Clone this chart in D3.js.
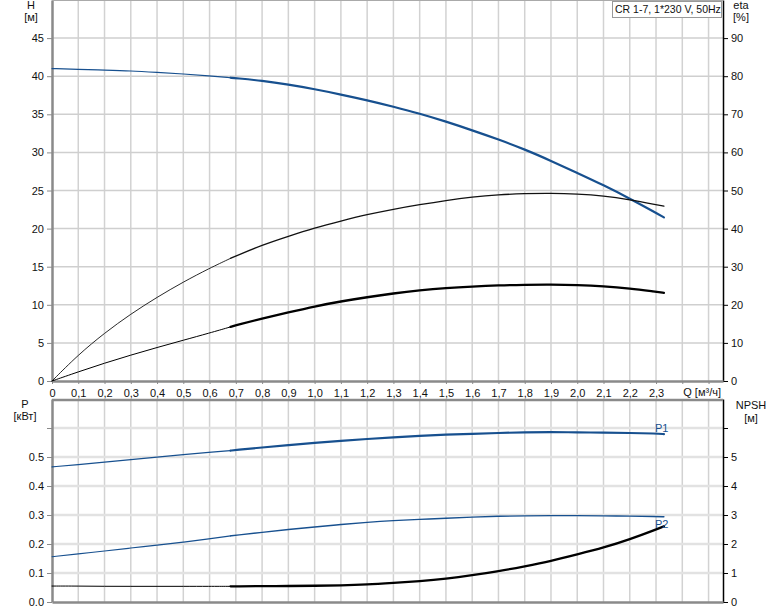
<!DOCTYPE html>
<html><head><meta charset="utf-8">
<script src="https://cdn.jsdelivr.net/npm/d3@7/dist/d3.min.js"></script>
<style>
body{margin:0;background:#fff;}
svg{display:block;font-family:"Liberation Sans",Arial,sans-serif;}
</style></head>
<body><svg id="c" width="774" height="611"></svg>
<script>
// ---- data ----
const Q      = [0,0.1,0.2,0.3,0.4,0.5,0.6,0.68,0.7,0.8,0.9,1.0,1.1,1.2,1.3,1.4,1.5,1.6,1.7,1.8,1.9,2.0,2.1,2.2,2.3,2.33];
const H      = [41.0,40.9,40.8,40.7,40.5,40.3,40.05,39.8,39.75,39.4,38.9,38.3,37.6,36.85,36.0,35.1,34.05,32.9,31.7,30.4,28.9,27.3,25.7,23.95,22.07,21.47];
const ETA    = [0,6.9,12.6,17.6,22.0,26.0,29.6,32.2,32.8,35.7,38.0,40.2,42.0,43.7,45.1,46.3,47.4,48.3,48.9,49.2,49.3,49.1,48.6,47.6,46.3,45.9];
const ETATOT = [0,2.4,4.7,6.8,8.8,10.7,12.6,14.2,14.6,16.4,18.0,19.6,20.9,22.0,23.0,23.8,24.4,24.8,25.1,25.25,25.3,25.2,24.9,24.3,23.4,23.15];
const P1     = [0.466,0.474,0.482,0.491,0.500,0.508,0.516,0.522,0.524,0.533,0.541,0.549,0.556,0.562,0.568,0.573,0.577,0.580,0.583,0.585,0.586,0.585,0.584,0.583,0.581,0.579];
const P2     = [0.156,0.166,0.176,0.186,0.196,0.206,0.218,0.228,0.230,0.240,0.250,0.259,0.267,0.275,0.281,0.285,0.289,0.293,0.296,0.297,0.298,0.298,0.297,0.296,0.295,0.294];
const NPSH   = [0.55,0.55,0.54,0.54,0.54,0.54,0.54,0.54,0.54,0.55,0.55,0.56,0.57,0.60,0.66,0.72,0.80,0.92,1.06,1.23,1.41,1.64,1.87,2.16,2.50,2.61];
const qTicks   = [0,0.1,0.2,0.3,0.4,0.5,0.6,0.7,0.8,0.9,1.0,1.1,1.2,1.3,1.4,1.5,1.6,1.7,1.8,1.9,2.0,2.1,2.2,2.3];
const qGrid    = [0.1,0.2,0.3,0.4,0.5,0.6,0.7,0.8,0.9,1.0,1.1,1.2,1.3,1.4,1.5,1.6,1.7,1.8,1.9,2.0,2.1,2.2,2.3,2.4,2.5];
const hTicks   = [0,5,10,15,20,25,30,35,40,45];
const etaTicks = [0,10,20,30,40,50,60,70,80,90];
const pTicks   = [0,0.1,0.2,0.3,0.4,0.5,0.6];
const nTicks   = [0,1,2,3,4,5,6];
const title = "CR 1-7, 1*230 V, 50Hz";
const Qop = 0.68; // start of the bold (operating) range

// ---- scales ----
const svg = d3.select("#c");
const x  = d3.scaleLinear().domain([0,2.555]).range([52,723]);
const yH = d3.scaleLinear().domain([0,50]).range([381,0]);
const yE = d3.scaleLinear().domain([0,100]).range([381,0]);
const yP = d3.scaleLinear().domain([0,0.7]).range([602,399]);
const yN = d3.scaleLinear().domain([0,7]).range([602,399]);

const BLUE="#17508f", GRIDV="#d2d2d2", GRIDH="#cfcfcf", AX="#8a8a8a";
const fmtQ = d => d===0 ? "0" : d3.format(".1f")(d).replace(".",",");

// ---- grids ----
function grids(y0,y1,hvals,yScale,hcol,hw){
  svg.append("g").selectAll("line").data(qGrid).join("line")
    .attr("x1",d=>x(d)).attr("x2",d=>x(d)).attr("y1",y0).attr("y2",y1)
    .attr("stroke",GRIDV).attr("stroke-width",1.5);
  svg.append("g").selectAll("line").data(hvals).join("line")
    .attr("x1",x(0)).attr("x2",723).attr("y1",d=>yScale(d)).attr("y2",d=>yScale(d))
    .attr("stroke",hcol).attr("stroke-width",hw);
}
grids(0,381,hTicks.filter(d=>d>0),yH,GRIDH,1.5);
grids(400,602,pTicks.filter(d=>d>0),yP,"#e2e2e2",2.5);

// ---- axes ----
function styleAxis(g,col,w){
  g.select(".domain").attr("stroke",col).attr("stroke-width",w);
  g.selectAll(".tick line").attr("stroke",col).attr("stroke-width",1);
  g.selectAll(".tick text").attr("fill","#111").style("font-size","11px").style("font-family","Liberation Sans, Arial, sans-serif");
}
// top panel
let g;
g = svg.append("g").attr("transform","translate(52,0)")
  .call(d3.axisLeft(yH).tickValues(hTicks).tickSize(5).tickSizeOuter(0).tickPadding(3));
styleAxis(g,AX,2.5);
g = svg.append("g").attr("transform","translate(723,0)")
  .call(d3.axisRight(yE).tickValues(etaTicks).tickSize(5).tickSizeOuter(0).tickPadding(3));
styleAxis(g,"#000",1.5);
g = svg.append("g").attr("transform","translate(0,381)")
  .call(d3.axisBottom(x).tickValues(qTicks.concat([2.4,2.5])).tickSize(3).tickSizeOuter(0).tickPadding(5)
    .tickFormat(d=> d>2.35 ? "" : fmtQ(d)));
styleAxis(g,AX,2.5);
svg.append("line").attr("x1",52).attr("x2",723).attr("y1",0.5).attr("y2",0.5).attr("stroke","#aaa").attr("stroke-width",1);

// bottom panel
g = svg.append("g").attr("transform","translate(52,0)")
  .call(d3.axisLeft(yP).tickValues(pTicks).tickSize(5).tickSizeOuter(0).tickPadding(3)
    .tickFormat(d=> d>0.55 ? "" : d3.format(".1f")(d)));
styleAxis(g,AX,2.5);
g = svg.append("g").attr("transform","translate(723,0)")
  .call(d3.axisRight(yN).tickValues(nTicks).tickSize(5).tickSizeOuter(0).tickPadding(3)
    .tickFormat(d=> d>5.5 ? "" : d));
styleAxis(g,"#000",1.5);
g = svg.append("g").attr("transform","translate(0,602)")
  .call(d3.axisBottom(x).tickValues([]).tickSize(0).tickSizeOuter(0));
styleAxis(g,AX,2.5);
svg.append("line").attr("x1",52).attr("x2",723).attr("y1",400).attr("y2",400).attr("stroke",AX).attr("stroke-width",2.5);

// ---- axis titles ----
function txt(t,xx,yy,anchor,col,fs){
  return svg.append("text").attr("x",xx).attr("y",yy).attr("text-anchor",anchor||"middle")
    .attr("fill",col||"#111").style("font-size",(fs||11)+"px").text(t);
}
txt("H",31,9); txt("[м]",31,21);
txt("eta",741,9); txt("[%]",741,21);
txt("P",25,408); txt("[кВт]",25,420);
txt("NPSH",751,409); txt("[м]",751,422);
txt("Q [м³/ч]",721,396,"end");

// legend box
svg.append("rect").attr("x",612.5).attr("y",1.5).attr("width",109).attr("height",16)
  .attr("fill","#fff").attr("stroke","#999");
txt(title,615,13,"start","#111",10.5);

// ---- curves ----
function curve(vals,ys,col,wThin,wThick){
  const pts = Q.map((q,i)=>[q,vals[i]]);
  const line = d3.line().x(d=>x(d[0])).y(d=>ys(d[1])).curve(d3.curveBasis);
  svg.append("path").attr("d",line(pts.filter(d=>d[0]<=Qop))).attr("fill","none")
    .attr("stroke",col).attr("stroke-width",wThin).attr("stroke-linecap","round");
  svg.append("path").attr("d",line(pts.filter(d=>d[0]>=Qop))).attr("fill","none")
    .attr("stroke",col).attr("stroke-width",wThick).attr("stroke-linecap","round");
}
curve(H,yH,BLUE,1.2,2.2);
curve(ETA,yE,"#111",0.9,1.3);
curve(ETATOT,yE,"#000",1,2.3);
curve(P1,yP,BLUE,1.2,2.2);
curve(P2,yP,BLUE,1.1,1.4);
curve(NPSH,yN,"#000",1,2.3);

txt("P1",655,432,"start",BLUE);
txt("P2",655,528,"start",BLUE);
</script></body></html>
